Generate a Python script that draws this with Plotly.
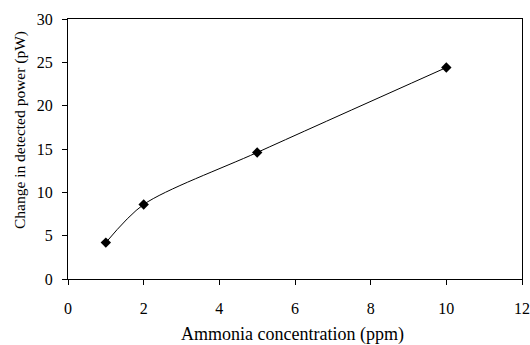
import plotly.graph_objects as go

conc = [1, 2, 5, 10]
power = [4.2, 8.6, 14.6, 24.4]
x_ticks = [0, 2, 4, 6, 8, 10, 12]
y_ticks = [0, 5, 10, 15, 20, 25, 30]

font_family = "Liberation Serif, DejaVu Serif, serif"

fig = go.Figure()
fig.add_trace(go.Scatter(
    x=conc, y=power, mode="lines+markers",
    line=dict(color="black", width=1, shape="spline", smoothing=0.8),
    marker=dict(symbol="diamond", size=8, color="black"),
    showlegend=False,
))
axis_common = dict(
    showgrid=False, zeroline=False, showline=True, linecolor="black", linewidth=1.3,
    mirror=True, ticks="outside", ticklen=5, tickcolor="black", tickwidth=1.3,
    tickfont=dict(family=font_family, size=16, color="black"),
    ticklabeloverflow="allow", automargin=False,
)
fig.update_xaxes(range=[0, 12], tickvals=x_ticks, ticklabelstandoff=10, **axis_common)
fig.update_yaxes(range=[0, 30], tickvals=y_ticks, ticklabelstandoff=6, **axis_common)
fig.add_annotation(
    text="Ammonia concentration (ppm)",
    xref="paper", yref="paper", x=0.495, y=-0.215,
    xanchor="center", yanchor="middle", showarrow=False,
    font=dict(family=font_family, size=18, color="black"),
)
fig.add_annotation(
    text="Change in detected power (pW)", textangle=-90,
    xref="paper", yref="paper", x=-0.1057, y=0.573,
    xanchor="center", yanchor="middle", showarrow=False,
    font=dict(family=font_family, size=15.5, color="black"),
)
fig.update_layout(
    width=530, height=345,
    margin=dict(l=68, r=8, t=19, b=66),
    plot_bgcolor="white", paper_bgcolor="white",
)
fig.write_html("out.html")
